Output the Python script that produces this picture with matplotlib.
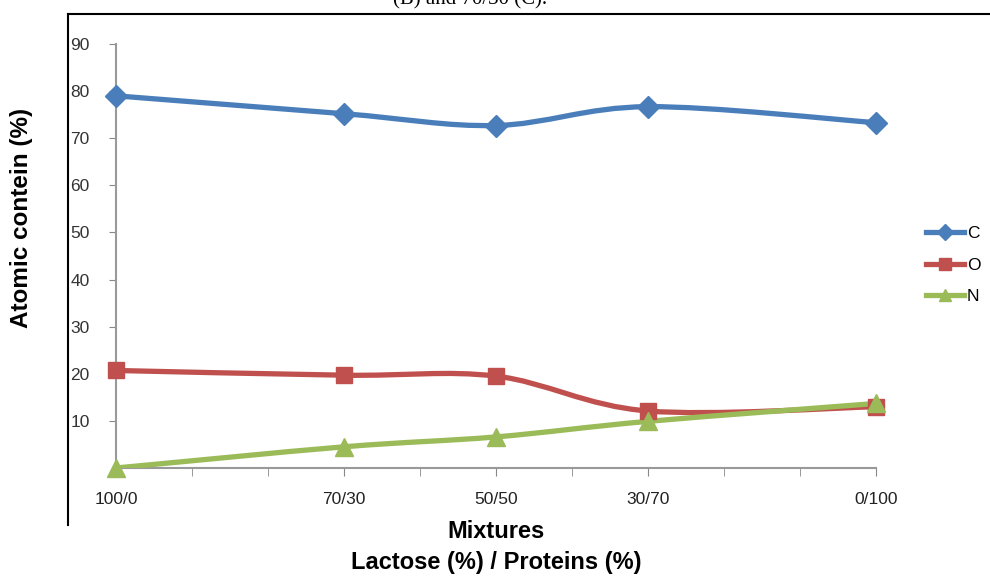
import matplotlib.pyplot as plt
from matplotlib.path import Path
from matplotlib.patches import PathPatch
from matplotlib.lines import Line2D

plt.rcParams['font.family'] = ['Liberation Sans', 'DejaVu Sans']

# Lactose share of each mixture (x position), and its label
lactose = [100, 70, 50, 30, 0]
mix_labels = ['100/0', '70/30', '50/50', '30/70', '0/100']

# Atomic content (%)
carbon = [79.0, 75.2, 72.7, 76.7, 73.3]
oxygen = [20.7, 19.7, 19.5, 12.1, 13.0]
nitrogen = [0.0, 4.5, 6.6, 9.9, 13.7]

blue = '#4a7ebb'
red = '#c0504d'
green = '#9bbb59'


def smooth_path(xs, ys):
    # excel-like smoothed line, bezier segments built from the data points
    verts = [(xs[0], ys[0])]
    codes = [Path.MOVETO]
    n = len(xs)
    for i in range(n - 1):
        x0, y0 = xs[max(i - 1, 0)], ys[max(i - 1, 0)]
        x1, y1 = xs[i], ys[i]
        x2, y2 = xs[i + 1], ys[i + 1]
        x3, y3 = xs[min(i + 2, n - 1)], ys[min(i + 2, n - 1)]
        c1 = (x1 + (x2 - x0) / 6, y1 + (y2 - y0) / 6)
        c2 = (x2 - (x3 - x1) / 6, y2 - (y3 - y1) / 6)
        verts += [c1, c2, (x2, y2)]
        codes += [Path.CURVE4] * 3
    return Path(verts, codes)


fig = plt.figure(figsize=(9.9, 5.76), dpi=100)
ax = fig.add_axes([116 / 990, 1 - 468 / 576, 760 / 990, 424 / 576])

series = [
    (carbon, blue, 'D', 11, 'C'),
    (oxygen, red, 's', 12, 'O'),
    (nitrogen, green, '^', 13, 'N'),
]
handles = []
for vals, col, mk, ms, name in series:
    ax.add_patch(PathPatch(smooth_path(lactose, vals), facecolor='none',
                           edgecolor=col, linewidth=3.8, zorder=3,
                           capstyle='round', joinstyle='round'))
    ax.plot(lactose, vals, linestyle='none', marker=mk, markersize=ms,
            color=col, markeredgecolor=col, zorder=4, clip_on=False)
    handles.append(Line2D([], [], color=col, linewidth=3.8, marker=mk,
                          markersize=ms * 0.7, label=name))

ax.set_xlim(100, 0)
ax.set_ylim(0, 90)
ax.set_xticks(range(0, 101, 10), minor=True)
ax.set_xticks(lactose)
ax.set_xticklabels(mix_labels, fontsize=12.5, color='#222222')
ax.set_yticks(range(10, 91, 10))
ax.tick_params(axis='x', which='both', direction='out', length=6,
               color='#888888', pad=11)
ax.tick_params(axis='y', direction='out', length=5, color='#888888',
               pad=14, labelsize=12.5, labelcolor='#333333')
for s in ['top', 'right']:
    ax.spines[s].set_visible(False)
for s in ['left', 'bottom']:
    ax.spines[s].set_color('#999999')
    ax.spines[s].set_linewidth(1.5)

fig.text(496 / 990, 1 - 531 / 576, 'Mixtures', ha='center', va='center',
         fontsize=17, fontweight='bold')
fig.text(496 / 990, 1 - 563 / 576, 'Lactose (%) / Proteins (%)',
         ha='center', va='center', fontsize=17, fontweight='bold')
fig.text(22 / 990, 1 - 218 / 576, 'Atomic contein (%)', rotation=90,
         ha='center', va='center', fontsize=17.5, fontweight='bold')

fig.legend(handles=handles, loc='upper left',
           bbox_to_anchor=(926 / 990, 1 - 226 / 576), frameon=False,
           borderpad=0, borderaxespad=0,
           handlelength=2.2, handletextpad=0.15, labelspacing=0.95,
           fontsize=12.5)

# page frame lines and the cut off caption above the chart
fig.add_artist(Line2D([68 / 990, 68 / 990], [1 - 14 / 576, 1 - 525 / 576],
                      color='black', linewidth=1.5))
fig.add_artist(Line2D([68 / 990, 1], [1 - 14 / 576, 1 - 14 / 576],
                      color='black', linewidth=1.5))
fig.text(470 / 990, 1.0, '(B) and 70/30 (C).', ha='center', va='center',
         fontsize=15, family='Liberation Serif')

fig.savefig('out.png', dpi=100)
